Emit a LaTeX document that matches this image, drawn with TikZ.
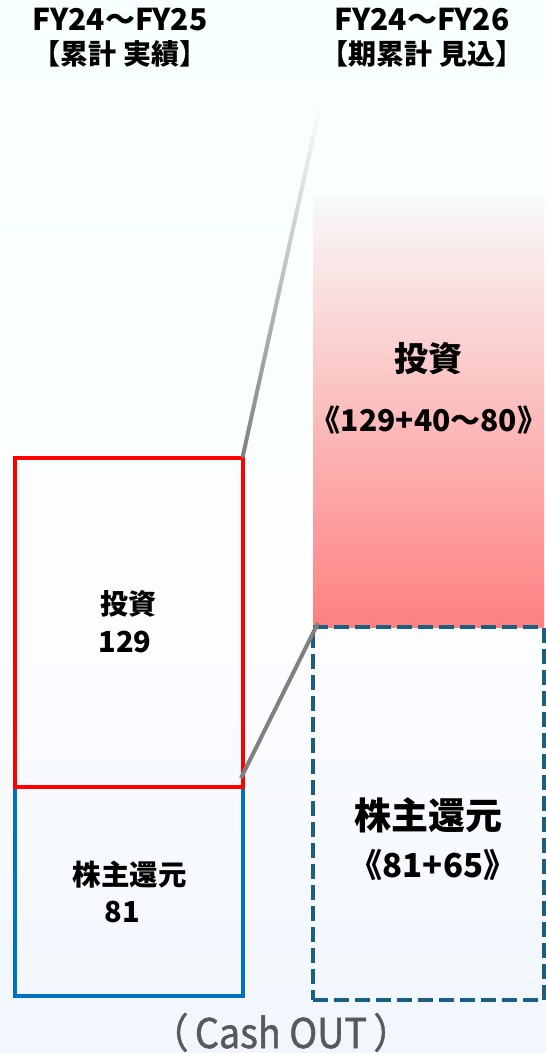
\documentclass[tikz,border=0pt]{standalone}
\usepackage{fontspec}
\setmainfont{Noto Sans CJK JP}
\newfontfamily\cashfont{Noto Sans CJK JP}[FakeBold=1.2]
\usetikzlibrary{fadings}
\definecolor{bgA}{HTML}{DAE8F8}
\definecolor{bgB}{HTML}{EBF3FC}
\definecolor{bgC}{HTML}{FCFDFF}
\definecolor{bgD}{HTML}{F8FFFF}
\definecolor{bgE}{HTML}{F0FFFF}
\definecolor{invred}{HTML}{FF0000}
\definecolor{retblue}{HTML}{0070C0}
\definecolor{dashblue}{HTML}{1B5E80}
\definecolor{barred}{HTML}{FF8080}
\definecolor{bartop}{HTML}{F8FAFA}
\definecolor{linegray}{HTML}{808080}
\definecolor{cashgray}{HTML}{595959}
\pgfdeclareverticalshading{bgshade}{100bp}{color(0bp)=(bgA); color(15bp)=(bgB); color(45bp)=(bgC); color(75bp)=(bgD); color(100bp)=(bgE)}
\tikzfading[name=linefade, top color=transparent!100, middle color=transparent!0, bottom color=transparent!0]
\begin{document}
\begin{tikzpicture}[x=1pt,y=-1pt,
  boxbase/.style={inner sep=0pt, outer sep=0pt, anchor=north west, line width=4pt},
  redbox/.style={boxbase, draw=invred, minimum width=228pt, minimum height=329.5pt},
  bluebox/.style={boxbase, draw=retblue, minimum width=228pt, minimum height=209pt},
  dashbox/.style={boxbase, draw=dashblue, dash pattern=on 15pt off 6pt, minimum width=230.5pt, minimum height=373pt},
  barbox/.style={inner sep=0pt, outer sep=0pt, anchor=north west, top color=bartop, bottom color=barred, minimum width=231pt, minimum height=432pt},
  lbl/.style={inner sep=0pt, font=\bfseries, text=black},
  conn/.style={draw=linegray, line width=4pt}
]
\useasboundingbox (0,0) rectangle (546,1053);
\shade[shading=bgshade] (0,0) rectangle (546,1053);

% headers
\node[lbl, font=\bfseries\fontsize{30}{30}\selectfont, anchor=base] (h1a) at (120,30) {FY24～FY25};
\node[lbl, font=\bfseries\fontsize{28}{28}\selectfont] (h1b) at (120,54) {【累計 実績】};
\node[lbl, font=\bfseries\fontsize{30}{30}\selectfont, anchor=base] (h2a) at (422,30) {FY24～FY26};
\node[lbl, font=\bfseries\fontsize{28}{28}\selectfont] (h2b) at (422,54) {【期累計 見込】};

% right bar (forecast investment)
\node[barbox] (finv) at (313,195) {};
% left boxes
\node[bluebox] (ret) at (14.5,787) {};
\node[redbox] (inv) at (14.5,457.5) {};
% right dashed box
\node[dashbox] (fret) at (313,627) {};

% connectors
\coordinate (l1top) at (320,106);
\coordinate (l2bot) at (241,778);
\coordinate (l2top) at (318,623);
\draw[conn, path fading=linefade] (inv.north east) -- (l1top);
\draw[conn] (l2bot) -- (l2top);

% labels
\node[lbl, font=\bfseries\fontsize{34}{34}\selectfont] (finvt) at (428,359) {投資};
\node[lbl, font=\bfseries\fontsize{30}{30}\selectfont] (finvn) at (429,420) {《129+40～80》};
\node[lbl, font=\bfseries\fontsize{28}{28}\selectfont] (invt) at (128,604) {投資};
\node[lbl, font=\bfseries\fontsize{29}{29}\selectfont] (invn) at (125,642) {129};
\node[lbl, font=\bfseries\fontsize{28.5}{28.5}\selectfont] (rett) at (129.5,875) {株主還元};
\node[lbl, font=\bfseries\fontsize{29}{29}\selectfont] (retn) at (122,912) {81};
\node[lbl, font=\bfseries\fontsize{37}{37}\selectfont] (frett) at (428,815) {株主還元};
\node[lbl, font=\bfseries\fontsize{33}{33}\selectfont] (fretn) at (433,865) {《81+65》};
\node[inner sep=0pt, text=cashgray, anchor=base, xscale=0.92, font=\cashfont\fontsize{41}{41}\selectfont] (cash) at (281,1048) {（\,Cash OUT\,）};
\end{tikzpicture}
\end{document}
